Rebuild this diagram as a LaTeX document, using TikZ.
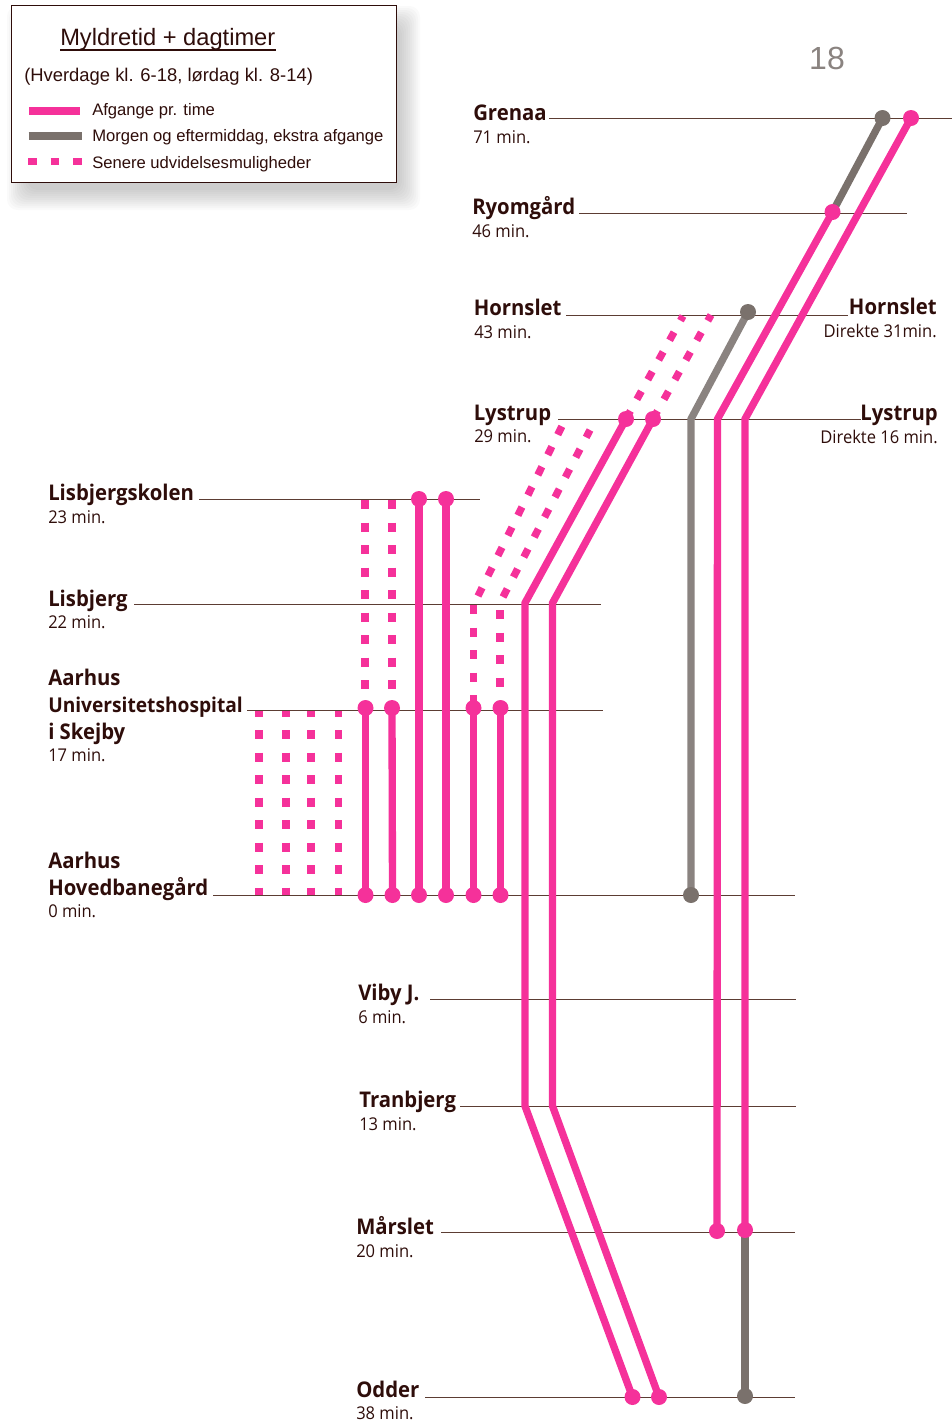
\documentclass[tikz,border=0pt]{standalone}
\usepackage{fontspec}
\setmainfont[FakeStretch=0.94]{Open Sans}
\newfontfamily\legendfont{Liberation Sans}
\usetikzlibrary{backgrounds}
\definecolor{pinkline}{HTML}{F5319A}
\definecolor{grayline}{HTML}{7A716C}
\definecolor{graylight}{HTML}{8A8380}
\definecolor{inkbrown}{HTML}{2E0D0A}
\definecolor{leader}{HTML}{5C3D33}
\tikzset{
  x=0.75pt,y=-0.75pt,
  pinkdot/.style={circle,fill=pinkline,inner sep=0pt,minimum size=12pt},
  graydot/.style={circle,fill=grayline,inner sep=0pt,minimum size=12pt},
  pinkrun/.style={draw=pinkline,line width=5.5pt,line join=miter},
  grayrun/.style={draw=grayline,line width=5.5pt},
  lightrun/.style={draw=graylight,line width=5.5pt,line join=miter},
  laterrun/.style={draw=pinkline,line width=5.5pt,dash pattern=on 6.9pt off 9.975pt},
  laterphase/.style={laterrun,dash phase=2.6pt},
  leaderline/.style={draw=leader,line width=0.7pt},
  stationname/.style={anchor=base west,inner sep=0pt,text=inkbrown,font=\fontsize{16.2}{18}\selectfont\bfseries},
  stationtime/.style={anchor=base west,inner sep=0pt,text=inkbrown,font=\fontsize{13.2}{15}\selectfont},
  rightname/.style={stationname,anchor=base east},
  righttime/.style={stationtime,anchor=base east},
  legendtext/.style={anchor=base west,inner sep=0pt,text=inkbrown,font=\legendfont\fontsize{12.47}{15}\selectfont},
}
\begin{document}
\begin{tikzpicture}
\useasboundingbox (0,0) rectangle (952,1422);
% legend shadow
\foreach \g in {-6,-4,...,14}{
  \fill[black,opacity=0.018,rounded corners=8pt] (21-\g,20-\g) rectangle (406+\g,196+\g);
}
\node[draw=inkbrown,line width=1pt,fill=white,inner sep=0pt,minimum width=288.75pt,minimum height=132.75pt,anchor=north west] (legendbox) at (11,5) {};
\node[legendtext,font=\legendfont\fontsize{17.75}{20}\selectfont] (legendtitle) at (60,45) {Myldretid + dagtimer};
\draw[draw=inkbrown,line width=0.8pt] (60,50) coordinate (tl) -- (275.5,50) coordinate (tr);
\node[legendtext,font=\legendfont\fontsize{13.8}{16}\selectfont] (legendsub) at (24,81) {(Hverdage kl. 6-18, lørdag kl. 8-14)};
\coordinate (la) at (29,110.5); \coordinate (lb) at (80,110.5);
\coordinate (lc) at (28.5,136); \coordinate (ld) at (81.5,136);
\coordinate (le) at (28,161.5); \coordinate (lf) at (82,161.5);
\draw[draw=pinkline,line width=6pt] (la) -- (lb);
\draw[draw=grayline,line width=6pt] (lc) -- (ld);
\draw[draw=pinkline,line width=5.4pt,dash pattern=on 6.6pt off 10.3pt] (le) -- (lf);
\node[legendtext] (lega) at (92,115.5) {Afgange pr. time};
\node[legendtext] (legb) at (92,141.5) {Morgen og eftermiddag, ekstra afgange};
\node[legendtext] (legc) at (92,168) {Senere udvidelsesmuligheder};
\node[anchor=base,inner sep=0pt,text=graylight,font=\legendfont\fontsize{24}{28}\selectfont] (pageno) at (827,69) {18};

% station labels
\node[stationname] (grenaa) at (473,120) {Grenaa};
\node[stationtime] (grenaat) at (473,143) {71 min.};
\node[stationname] (ryom) at (472,214) {Ryomgård};
\node[stationtime] (ryomt) at (472,237) {46 min.};
\node[stationname] (horn) at (473.5,315.5) {Hornslet};
\node[stationtime] (hornt) at (474,338) {43 min.};
\node[stationname] (lyst) at (473.5,420) {Lystrup};
\node[stationtime] (lystt) at (474,442) {29 min.};
\node[rightname] (hornr) at (937,314) {Hornslet};
\node[righttime] (hornrt) at (937,337) {Direkte 31min.};
\node[rightname] (lystr) at (938,420) {Lystrup};
\node[righttime] (lystrt) at (938,443) {Direkte 16 min.};
\node[stationname] (lisk) at (48,500) {Lisbjergskolen};
\node[stationtime] (liskt) at (48,523) {23 min.};
\node[stationname] (lisb) at (48,606) {Lisbjerg};
\node[stationtime] (lisbt) at (48,628) {22 min.};
\node[stationname] (aar) at (48,685) {Aarhus};
\node[stationname,font=\fontsize{15.3}{18}\selectfont\bfseries] (uni) at (48,712) {Universitetshospital};
\node[stationname] (skej) at (48,739) {i Skejby};
\node[stationtime] (skejt) at (48,761) {17 min.};
\node[stationname] (aarh) at (48,868) {Aarhus};
\node[stationname] (hov) at (48,895) {Hovedbanegård};
\node[stationtime] (hovt) at (48,917) {0 min.};
\node[stationname] (viby) at (358,1000) {Viby J.};
\node[stationtime] (vibyt) at (358,1023) {6 min.};
\node[stationname] (tran) at (359,1107) {Tranbjerg};
\node[stationtime] (trant) at (359,1130) {13 min.};
\node[stationname] (mars) at (356,1234) {Mårslet};
\node[stationtime] (marst) at (356,1257) {20 min.};
\node[stationname] (odd) at (356,1397) {Odder};
\node[stationtime] (oddt) at (356,1419) {38 min.};

% dots
\node[graydot] (gG) at (882.5,118) {};
\node[pinkdot] (pG) at (911,118) {};
\node[pinkdot] (pR) at (832.5,212) {};
\node[graydot] (gH) at (748,312) {};
\node[pinkdot] (pL1) at (626,419) {};
\node[pinkdot] (pL2) at (653,419) {};
\node[pinkdot] (pK1) at (419,499) {};
\node[pinkdot] (pK2) at (446,499) {};
\node[pinkdot] (pU1) at (365.5,708) {};
\node[pinkdot] (pU2) at (392,708) {};
\node[pinkdot] (pU3) at (473.5,708) {};
\node[pinkdot] (pU4) at (500.5,708) {};
\node[pinkdot] (pB1) at (365.5,895) {};
\node[pinkdot] (pB2) at (392.5,895) {};
\node[pinkdot] (pB3) at (419,895) {};
\node[pinkdot] (pB4) at (446,895) {};
\node[pinkdot] (pB5) at (473.5,895) {};
\node[pinkdot] (pB6) at (500.5,895) {};
\node[graydot] (gB) at (691,895) {};
\node[pinkdot] (pM1) at (717,1231) {};
\node[pinkdot] (pM2) at (745,1230) {};
\node[pinkdot] (pO1) at (632.5,1397) {};
\node[pinkdot] (pO2) at (659,1397) {};
\node[graydot] (gO) at (745,1396) {};

% route bend points and free ends
\coordinate (b1a) at (525,1106); \coordinate (b1b) at (525,603);
\coordinate (b2a) at (552.5,1106); \coordinate (b2b) at (552.5,603);
\coordinate (b3) at (745,419); \coordinate (b4) at (717.5,419); \coordinate (b5) at (691,419);
\foreach \n/\x/\y in {d1/365/500,d1b/365/690,d2/392/500,d2b/392/690,d3/473.5/605,d3b/473.5/705,d4/500/610,d4b/500/690,
  e1/259/711,e1b/259/895,e2/286/711,e2b/286/895,e3/311/711,e3b/311/895,e4/338.5/711,e4b/338.5/895,
  f1/478/596,f1b/563/424,f2/503/597,f2b/590/430,h1/683/316,h2/711/315}{
  \coordinate (\n) at (\x,\y);
}

\begin{scope}[on background layer]
  % leader lines
  \foreach \n/\xa/\xb/\y in {gl/549/952/118.5,rl/579/907/213,hl/566/848/315,yl/558/861/419.5,kl/199/480/499,sl/134/601/604,ul/247/603/710,bl/213/795/895,vl/430/796/999,tl/460/796/1106,ml/441/795/1232,ol/425/795/1397}{
    \coordinate (\n a) at (\xa,\y);
    \coordinate (\n b) at (\xb,\y);
    \draw[leaderline] (\n a) -- (\n b);
  }
  % planned extensions
  \draw[laterrun] (d1) -- (d1b);
  \draw[laterrun] (d2) -- (d2b);
  \draw[laterrun] (d3) -- (d3b);
  \draw[laterrun] (d4) -- (d4b);
  \draw[laterphase] (e1) -- (e1b);
  \draw[laterphase] (e2) -- (e2b);
  \draw[laterphase] (e3) -- (e3b);
  \draw[laterphase] (e4) -- (e4b);
  \draw[laterrun] (f1) -- (f1b);
  \draw[laterrun] (f2) -- (f2b);
  \draw[laterrun] (pL1.center) -- (h1);
  \draw[laterrun] (pL2.center) -- (h2);
  % gray runs
  \draw[grayrun] (pR.center) -- (gG.center);
  \draw[lightrun] (gB.center) -- (b5) -- (gH.center);
  \draw[grayrun] (pM2.center) -- (gO.center);
  % pink runs
  \draw[pinkrun] (pU1.center) -- (pB1.center);
  \draw[pinkrun] (pU2.center) -- (pB2.center);
  \draw[pinkrun] (pK1.center) -- (pB3.center);
  \draw[pinkrun] (pK2.center) -- (pB4.center);
  \draw[pinkrun] (pU3.center) -- (pB5.center);
  \draw[pinkrun] (pU4.center) -- (pB6.center);
  \draw[pinkrun] (pO1.center) -- (b1a) -- (b1b) -- (pL1.center);
  \draw[pinkrun] (pO2.center) -- (b2a) -- (b2b) -- (pL2.center);
  \draw[pinkrun] (pM1.center) -- (b4) -- (pR.center);
  \draw[pinkrun] (pM2.center) -- (b3) -- (pG.center);
\end{scope}
\end{tikzpicture}
\end{document}
